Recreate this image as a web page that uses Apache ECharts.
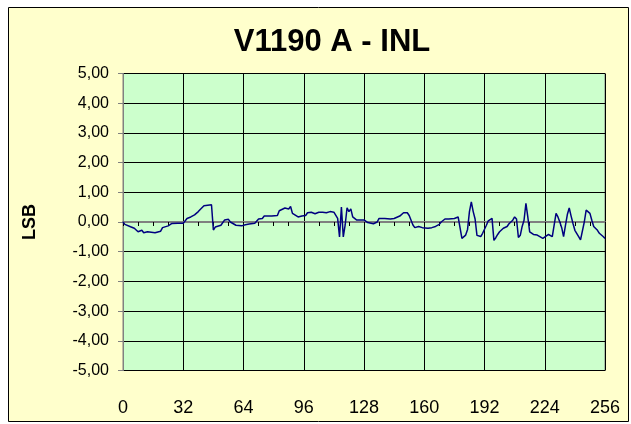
<!DOCTYPE html>
<html>
<head>
<meta charset="utf-8">
<title>V1190 A - INL</title>
<script src="https://cdn.jsdelivr.net/npm/echarts@6/dist/echarts.min.js"></script>
<style>
  html, body { margin: 0; padding: 0; background: #ffffff; }
  #chart { width: 631px; height: 424px; }
</style>
</head>
<body>
<div id="chart"></div>
<script>
// 通道号（读图所得的折点位置）
const channels = [
  0, 1, 4, 6, 8, 9, 10, 11, 13, 17, 20, 21, 24, 26, 27, 29, 32, 34, 36, 38,
  40, 41, 43, 44, 47, 48, 49, 50, 52, 53, 54, 56, 57, 58, 60, 61, 63, 65, 67, 70,
  72, 74, 75, 79, 82, 83, 84, 86, 87, 88, 89, 90, 91, 93, 95, 97, 98, 99, 100, 102,
  104, 105, 106, 108, 110, 112, 113, 114, 115, 116, 117, 118, 119, 120, 121, 122, 124, 126, 127, 128,
  130, 131, 133, 135, 136, 137, 139, 142, 144, 145, 147, 149, 150, 151, 152, 153, 154, 155, 157, 159,
  160, 162, 164, 166, 168, 169, 171, 173, 174, 176, 178, 179, 180, 182, 183, 184, 185, 186, 187, 188,
  190, 191, 193, 194, 195, 196, 197, 198, 199, 200, 202, 204, 205, 207, 208, 209, 210, 211, 212, 213,
  214, 215, 216, 218, 220, 221, 223, 224, 226, 227, 228, 229, 230, 231, 232, 233, 234, 235, 236, 237,
  238, 239, 240, 242, 243, 244, 245, 246, 247, 248, 249, 250, 252, 253, 255, 256
]

// INL 值 (LSB)
const inlValues = [
  0, -0.08, -0.16, -0.21, -0.33, -0.36, -0.28, -0.36, -0.33, -0.36, -0.31, -0.19, -0.13, -0.05, -0.08, -0.04, -0.04, 0.12, 0.17, 0.24,
  0.35, 0.42, 0.55, 0.59, 0.58, -0.27, -0.17, -0.2, -0.11, -0.06, 0.07, 0.09, 0, -0.02, -0.11, -0.09, -0.13, -0.09, -0.07, -0.04,
  0.1, 0.12, 0.2, 0.2, 0.22, 0.38, 0.44, 0.47, 0.52, 0.44, 0.52, 0.29, 0.24, 0.17, 0.2, 0.22, 0.31, 0.28, 0.33, 0.28,
  0.33, 0.38, 0.33, 0.31, 0.35, 0.33, 0.28, 0.12, -0.5, 0.5, -0.5, -0.1, 0.48, 0.35, 0.44, 0.17, 0.07, 0.07, 0.04, 0.07,
  -0.02, 0.04, -0.06, 0, 0.12, 0.1, 0.12, 0.1, 0.12, 0.15, 0.2, 0.31, 0.28, 0.31, 0.22, 0.2, -0.1, -0.19, -0.15, -0.19,
  -0.17, -0.21, -0.19, -0.15, -0.08, 0, 0.1, 0.1, 0.15, 0.12, 0.17, 0.18, -0.55, -0.44, -0.25, 0.35, 0.68, 0.35, 0.1, -0.45,
  -0.49, -0.38, -0.11, 0.04, 0.1, 0.12, -0.62, -0.53, -0.42, -0.33, -0.21, -0.15, -0.06, 0.06, 0.17, 0.1, -0.52, -0.45, -0.15, 0.06,
  0.63, 0.17, -0.33, -0.42, -0.44, -0.49, -0.55, -0.49, -0.42, -0.44, -0.49, -0.55, 0.29, 0.17, 0, -0.19, -0.49, -0.11, 0.25, 0.47,
  0.2, -0.05, -0.28, -0.49, -0.6, -0.55, 0, 0.4, 0.4, 0.29, 0.06, -0.15, -0.28, -0.38, -0.49, -0.55
]

// 坐标轴刻度
const xTicks = [0, 32, 64, 96, 128, 160, 192, 224, 256]
const yTicks = [-5, -4, -3, -2, -1, 0, 1, 2, 3, 4, 5]

const font = "Liberation Sans"

const chart = echarts.init(document.getElementById("chart"), null, { renderer: "canvas" })

const points = channels.map((c, i) => [c, inlValues[i]])

const option = {
  animation: false,
  backgroundColor: "#ffffff",
  graphic: [
    {
      // 外框
      type: "rect",
      z: -10,
      shape: { x: 8.5, y: 7.5, width: 620, height: 414 },
      style: { fill: "#FFFFCC", stroke: "#000000", lineWidth: 1 },
      silent: true
    }
  ],
  title: {
    text: "V1190 A - INL",
    left: 327,
    textAlign: "center",
    top: 22,
    textStyle: { fontFamily: font, fontSize: 31, fontWeight: "bold", color: "#000000" }
  },
  grid: {
    left: 123,
    right: 26,
    top: 73.5,
    bottom: 53.5,
    show: true,
    backgroundColor: "#CCFFCC",
    borderColor: "#808080",
    borderWidth: 1
  },
  xAxis: [
    {
      // 底部标签
      type: "value",
      min: xTicks[0],
      max: xTicks[xTicks.length - 1],
      interval: 32,
      position: "bottom",
      axisLine: { show: false, onZero: false },
      axisTick: { show: false },
      axisLabel: { margin: 29, fontFamily: font, fontSize: 18, color: "#000000" },
      splitLine: { show: true, lineStyle: { color: "#000000", width: 1 } }
    },
    {
      // 零线上的刻度
      type: "value",
      min: xTicks[0],
      max: xTicks[xTicks.length - 1],
      interval: 8,
      position: "top",
      axisLine: { show: true, onZero: true, lineStyle: { color: "#808080", width: 2 } },
      axisTick: { show: true, inside: true, length: 4, lineStyle: { color: "#000000" } },
      axisLabel: { show: false },
      splitLine: { show: false }
    }
  ],
  yAxis: {
    type: "value",
    min: yTicks[0],
    max: yTicks[yTicks.length - 1],
    interval: 1,
    name: "LSB",
    nameLocation: "middle",
    nameGap: 84,
    nameRotate: 90,
    nameTextStyle: { fontFamily: font, fontSize: 18, fontWeight: "bold", color: "#000000" },
    axisLine: { show: true, lineStyle: { color: "#808080" } },
    axisTick: { show: true, length: 5, lineStyle: { color: "#808080" } },
    axisLabel: {
      margin: 14,
      fontFamily: font,
      fontSize: 16,
      color: "#000000",
      formatter: (v) => v.toFixed(2).replace(".", ",")
    },
    splitLine: { show: true, lineStyle: { color: "#000000", width: 1 } }
  },
  series: [
    {
      type: "line",
      xAxisIndex: 0,
      data: points,
      showSymbol: false,
      lineStyle: { color: "#000080", width: 1.5 },
      z: 5
    }
  ]
}

chart.setOption(option)
</script>
</body>
</html>
